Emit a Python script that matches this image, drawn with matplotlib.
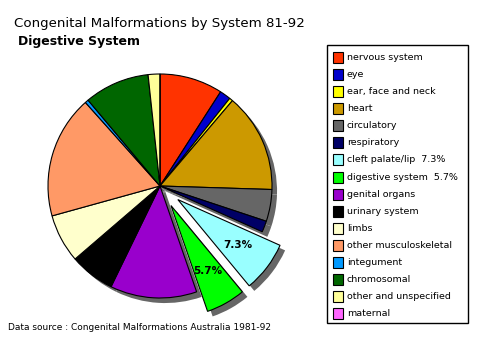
import matplotlib; matplotlib.use("Agg")
import matplotlib.pyplot as plt
from matplotlib.patches import Rectangle

# data (percent of all malformations, clockwise from 12 o'clock)
systems = ["nervous system", "eye", "ear, face and neck", "heart", "circulatory",
           "respiratory", "cleft palate/lip", "digestive system", "genital organs",
           "urinary system", "limbs", "other musculoskeletal", "integument",
           "chromosomal", "other and unspecified", "maternal"]
share = [9.1, 1.6, 0.5, 14.3, 4.6, 1.6, 7.3, 5.7, 12.5, 6.5, 7.0, 17.7, 0.5, 9.4, 1.7, 0.0]
colors = ["#FF3300", "#0000CC", "#FFFF00", "#CC9900", "#666666", "#000066", "#99FFFF",
          "#00FF00", "#9900CC", "#000000", "#FFFFCC", "#FF9966", "#0099FF", "#006600",
          "#FFFF99", "#FF66FF"]
highlight = ["cleft palate/lip", "digestive system"]

W, H = 481, 344
fig = plt.figure(figsize=(W/100, H/100), dpi=100)
plt.rcParams["font.family"] = "DejaVu Sans"

# pie axes in pixel terms: centre (160,186), radius 111 px
R, cx, cy, half = 111, 160, 186, 140
ax = fig.add_axes([(cx-half)/W, (H-cy-half)/H, 2*half/W, 2*half/H])
ax.set_xlim(-half/R, half/R); ax.set_ylim(-half/R, half/R); ax.axis("off")

explode = [0.2 if s in highlight else 0 for s in systems]
sh = 5/R
# drop shadow
ax.pie(share, explode=explode, startangle=90, counterclock=False, center=(sh, -sh),
       colors=["#666666"]*len(share), wedgeprops=dict(linewidth=0))
wedges, _, autotexts = ax.pie(share, explode=explode, startangle=90, counterclock=False,
                              colors=colors, autopct=lambda p: "", pctdistance=0.67,
                              wedgeprops=dict(edgecolor="black", linewidth=0.8))
for s, v, t in zip(systems, share, autotexts):
    if s in highlight:
        t.set_text(f"{v}%"); t.set_fontsize(7.5); t.set_fontweight("bold")

fig.text(14/W, 1-24/H, "Congenital Malformations by System 81-92", fontsize=9.6, va="center", ha="left")
fig.text(18/W, 1-42/H, "Digestive System", fontsize=9, fontweight="bold", va="center", ha="left")
fig.text(8/W, 1-328/H, "Data source : Congenital Malformations Australia 1981-92", fontsize=6.5, va="center", ha="left")

# legend box
lg = fig.add_axes([0, 0, 1, 1]); lg.set_xlim(0, W); lg.set_ylim(H, 0); lg.axis("off")
lg.add_patch(Rectangle((327, 45), 141, 278, fill=False, edgecolor="black", linewidth=1))
for i, (s, c, v) in enumerate(zip(systems, colors, share)):
    y = 57.3 + i*17.1
    lg.add_patch(Rectangle((333, y-5.5), 10.5, 11, facecolor=c, edgecolor="black", linewidth=0.8))
    lab = f"{s}  {v}%" if s in highlight else s
    lg.text(347, y, lab, fontsize=6.8, va="center", ha="left")

fig.savefig("out.png", dpi=100)
